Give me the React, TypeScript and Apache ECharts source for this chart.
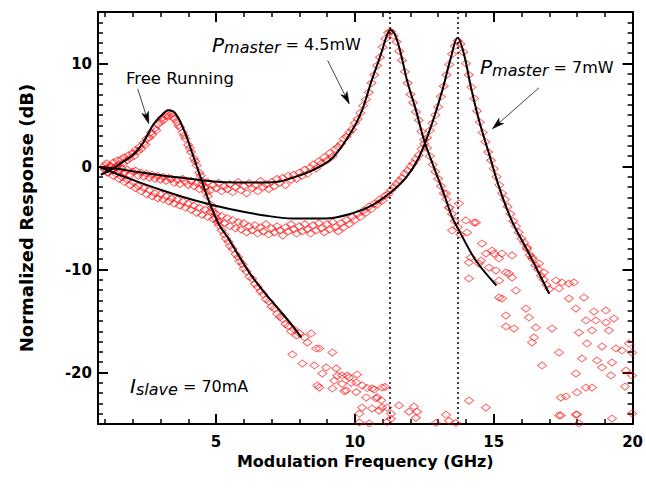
import React, { useEffect, useRef } from 'react';
import * as echarts from 'echarts';

const FAMILY = "'DejaVu Sans', sans-serif";

// Tick labels
const xMajorTicks = [5, 10, 15, 20];
const yMajorTicks = [-20, -10, 0, 10];

// Resonance markers (GHz)
const resonanceLines = [11.25, 13.7];

// Measured data, [GHz, dB]
const freeRunningMeasured = [
  [1.0, -0.3], [1.05, 0.3], [1.1, -0.6], [1.2, 0.1], [1.25, -0.3], [1.3, 0.4], [1.4, 0.0], [1.45, 0.6], [1.5, 0.2], [1.6, 0.7],
  [1.65, 0.3], [1.7, 0.9], [1.8, 0.6], [1.85, 1.1], [1.9, 0.8], [2.0, 1.3], [2.05, 1.0], [2.1, 1.6], [2.2, 1.5], [2.25, 1.9],
  [2.3, 1.7], [2.4, 2.3], [2.45, 2.1], [2.5, 2.7], [2.6, 2.8], [2.65, 3.3], [2.7, 3.1], [2.8, 3.7], [2.85, 3.5], [2.9, 4.1],
  [3.0, 4.3], [3.05, 4.7], [3.1, 4.5], [3.2, 4.9], [3.25, 5.2], [3.3, 4.9], [3.4, 5.1], [3.45, 4.8], [3.5, 4.6], [3.6, 4.3],
  [3.65, 4.0], [3.7, 3.8], [3.8, 3.3], [3.85, 3.0], [3.9, 2.7], [4.0, 2.1], [4.05, 1.8], [4.1, 1.4], [4.2, 0.8], [4.25, 0.5],
  [4.3, 0.1], [4.4, -0.6], [4.45, -0.9], [4.5, -1.4], [4.6, -2.1], [4.65, -2.5], [4.7, -2.9], [4.8, -3.7], [4.85, -4.0], [4.9, -4.4],
  [5.0, -5.0], [5.05, -5.4], [5.1, -5.7], [5.2, -6.2], [5.3, -6.6], [5.35, -7.0], [5.45, -7.3], [5.5, -7.7], [5.6, -8.0], [5.7, -8.5],
  [5.8, -8.8], [5.85, -9.2], [5.95, -9.5], [6.0, -9.9], [6.1, -10.2], [6.2, -10.7], [6.3, -10.9], [6.4, -11.4], [6.5, -11.7], [6.6, -12.1],
  [6.7, -12.4], [6.8, -12.9], [6.9, -13.1], [7.0, -13.6], [7.1, -13.8], [7.2, -14.3], [7.3, -14.6], [7.4, -14.8], [7.5, -15.3], [7.6, -15.5],
  [7.7, -16.0], [7.8, -15.8], [7.9, -16.4], [8.0, -16.2], [8.2, -16.6],
  [7.75, -18.25], [8.29, -17.09], [8.43, -16.21], [8.61, -17.67], [8.72, -17.67], [9.19, -18.06], [8.11, -19.13], [8.54, -19.32], [8.97, -19.51],
  [8.83, -20.1], [9.54, -20.29], [9.8, -20.49], [10.05, -20.97], [10.26, -21.26], [8.65, -21.26], [8.72, -21.46], [9.19, -21.55], [9.69, -21.75],
  [10.62, -21.55], [10.98, -21.46], [10.41, -22.43], [10.77, -22.52], [10.98, -23.4], [10.26, -23.4], [10.62, -23.5], [10.16, -24.85], [10.52, -24.95],
  [9.33, -19.6], [9.37, -20.3], [9.72, -20.3], [10.08, -20.2], [9.26, -20.8], [9.54, -21.1], [9.87, -21.0], [10.44, -21.5], [10.7, -21.65],
  [11.09, -21.4], [9.62, -21.8], [10.05, -21.9], [10.8, -22.4], [10.95, -22.7], [11.16, -23.4], [10.87, -23.7], [10.16, -24.0], [11.3, -24.0],
  [11.59, -23.2], [11.95, -23.8], [12.13, -23.3], [12.24, -23.8], [12.2, -24.4], [11.3, -24.5], [11.16, -24.8], [12.92, -24.9], [13.28, -24.1],
  [13.39, -24.7], [13.64, -24.9], [14.11, -22.72], [14.72, -23.4],
];

const master45Measured = [
  [1.0, 0.1], [1.1, -0.2], [1.2, 0.0], [1.3, -0.4], [1.4, -0.1], [1.5, -0.5], [1.6, -0.2], [1.7, -0.6], [1.8, -0.3], [1.9, -0.8],
  [2.0, -0.5], [2.1, -0.4], [2.2, -0.9], [2.3, -0.6], [2.4, -1.0], [2.5, -0.7], [2.6, -1.1], [2.7, -0.8], [2.8, -1.2], [2.9, -0.9],
  [3.0, -1.3], [3.1, -1.0], [3.2, -1.4], [3.3, -1.1], [3.4, -1.2], [3.5, -1.6], [3.6, -1.3], [3.7, -1.7], [3.8, -1.2], [3.9, -1.5],
  [4.0, -1.8], [4.1, -1.4], [4.2, -1.9], [4.3, -1.6], [4.4, -2.2], [4.5, -1.7], [4.6, -2.0], [4.7, -1.5], [4.8, -2.3], [4.9, -1.8],
  [5.0, -2.1], [5.1, -1.6], [5.2, -2.4], [5.3, -1.9], [5.4, -2.2], [5.5, -1.7], [5.6, -2.5], [5.7, -2.0], [5.8, -1.5], [5.9, -2.3],
  [6.0, -1.9], [6.1, -2.6], [6.2, -1.6], [6.3, -2.1], [6.4, -1.8], [6.5, -2.4], [6.6, -1.4], [6.7, -2.0], [6.8, -1.7], [6.9, -2.2],
  [7.0, -1.5], [7.1, -1.9], [7.2, -1.2], [7.3, -1.6], [7.4, -1.1], [7.5, -1.8], [7.6, -0.9], [7.7, -1.3], [7.8, -0.8], [7.9, -1.2],
  [8.0, -0.6], [8.1, -0.9], [8.2, -0.3], [8.3, -0.7], [8.4, -0.1], [8.5, 0.2], [8.6, -0.2], [8.7, 0.5], [8.8, 0.3], [8.9, 0.9],
  [9.0, 0.6], [9.1, 1.3], [9.2, 1.0], [9.3, 1.7], [9.4, 1.9], [9.5, 2.2], [9.6, 2.7], [9.7, 2.9], [9.8, 3.3], [9.9, 3.6],
  [10.0, 4.2], [10.1, 4.6], [10.2, 5.2], [10.3, 5.9], [10.4, 6.5], [10.5, 7.2], [10.6, 8.1], [10.7, 8.9], [10.8, 9.8], [10.9, 10.6],
  [11.0, 11.6], [11.1, 12.4], [11.2, 13.0], [11.3, 13.1], [11.4, 12.7], [11.5, 12.1], [11.6, 11.2], [11.7, 10.3], [11.8, 9.2], [11.9, 8.1],
  [12.0, 7.0], [12.1, 6.2], [12.2, 5.3], [12.3, 4.5], [12.4, 3.4], [12.5, 2.6], [12.6, 1.8], [12.7, 1.0], [12.8, 0.2], [12.9, -0.5],
  [13.0, -1.2], [13.1, -1.9], [13.2, -2.6], [13.3, -3.2], [13.4, -4.0], [13.5, -4.6], [13.6, -5.3], [13.7, -5.9], [13.8, -6.6],
  [13.29, -2.62], [13.39, -3.98], [13.75, -3.59], [14.0, -5.24], [14.36, -5.44], [14.29, -5.44], [13.5, -6.21], [14.04, -6.41], [14.58, -7.48],
  [14.18, -8.83], [14.54, -9.13], [14.72, -8.45], [15.01, -8.45], [14.94, -8.16], [15.3, -8.45], [15.66, -8.64], [15.19, -8.93], [14.11, -9.32],
  [14.47, -9.42], [14.83, -9.81], [15.08, -10.1], [15.44, -10.29], [15.66, -10.78], [14.11, -10.87], [15.19, -11.07], [15.8, -12.04], [15.55, -10.39],
  [15.19, -12.72], [15.3, -12.82], [16.16, -13.79], [15.44, -14.47], [16.27, -14.66], [15.44, -15.53], [15.73, -15.73], [16.52, -15.63],
  [16.45, -16.6], [16.38, -17.09], [16.74, -19.32], [17.42, -22.43], [18.0, -24.08], [17.42, -24.17], [19.26, -24.47],
];

const master7Measured = [
  [1.0, -0.2], [1.1, -0.6], [1.2, -0.4], [1.3, -0.9], [1.4, -0.7], [1.5, -1.2], [1.6, -1.0], [1.7, -1.5], [1.8, -1.3], [1.9, -1.8],
  [2.0, -1.5], [2.1, -2.1], [2.2, -1.9], [2.3, -2.4], [2.4, -2.1], [2.5, -2.7], [2.6, -2.3], [2.7, -2.9], [2.8, -2.6], [2.9, -3.1],
  [3.0, -2.7], [3.1, -3.2], [3.2, -2.9], [3.3, -3.4], [3.4, -3.1], [3.5, -3.6], [3.6, -3.2], [3.7, -3.8], [3.8, -3.4], [3.9, -4.0],
  [4.0, -3.6], [4.1, -4.2], [4.2, -3.8], [4.3, -4.5], [4.4, -4.0], [4.5, -4.7], [4.6, -4.2], [4.7, -4.9], [4.8, -4.4], [4.9, -5.1],
  [5.0, -4.6], [5.1, -5.3], [5.2, -4.8], [5.3, -5.5], [5.4, -5.0], [5.5, -5.8], [5.6, -5.2], [5.7, -6.0], [5.8, -5.4], [5.9, -6.1],
  [6.0, -5.5], [6.1, -6.4], [6.2, -5.8], [6.3, -6.2], [6.4, -5.7], [6.5, -6.5], [6.6, -5.9], [6.7, -6.3], [6.8, -5.6], [6.9, -6.6],
  [7.0, -6.0], [7.1, -6.4], [7.2, -5.8], [7.3, -6.2], [7.4, -6.7], [7.5, -5.9], [7.6, -6.3], [7.7, -5.6], [7.8, -6.1], [7.9, -6.5],
  [8.0, -5.8], [8.1, -6.3], [8.2, -5.6], [8.3, -6.1], [8.4, -6.5], [8.5, -5.7], [8.6, -6.2], [8.7, -5.5], [8.8, -6.0], [8.9, -6.4],
  [9.0, -5.6], [9.1, -6.1], [9.2, -5.4], [9.3, -5.9], [9.4, -6.3], [9.5, -5.5], [9.6, -5.9], [9.7, -5.2], [9.8, -5.6], [9.9, -4.9],
  [10.0, -5.2], [10.1, -4.6], [10.2, -4.9], [10.3, -4.3], [10.4, -4.5], [10.5, -3.9], [10.6, -4.1], [10.7, -3.6], [10.8, -3.7], [10.9, -3.2],
  [11.0, -3.3], [11.1, -2.8], [11.2, -2.7], [11.3, -2.3], [11.4, -2.0], [11.5, -1.7], [11.6, -1.4], [11.7, -1.1], [11.8, -0.7], [11.9, -0.4],
  [12.0, 0.0], [12.1, 0.3], [12.2, 0.7], [12.3, 1.1], [12.4, 1.7], [12.5, 2.2], [12.6, 2.8], [12.7, 3.5], [12.8, 4.2], [12.9, 5.0],
  [13.0, 5.8], [13.1, 6.8], [13.2, 7.8], [13.3, 8.9], [13.4, 9.9], [13.5, 10.9], [13.6, 11.7], [13.7, 12.2], [13.8, 11.9], [13.9, 11.1],
  [14.0, 10.0], [14.1, 8.9], [14.2, 7.7], [14.3, 6.6], [14.4, 5.4], [14.5, 4.3], [14.6, 3.3], [14.7, 2.4], [14.8, 1.4], [14.9, 0.6],
  [15.0, -0.2], [15.1, -1.0], [15.2, -1.8], [15.3, -2.6], [15.4, -3.2], [15.5, -3.9], [15.6, -4.6], [15.7, -5.3], [15.8, -5.8], [15.9, -6.4],
  [16.0, -7.0], [16.1, -7.4], [16.2, -8.0], [16.3, -8.6], [16.4, -9.0], [16.5, -9.6], [16.6, -10.0], [16.7, -10.6], [16.8, -11.0], [16.9, -11.5],
  [17.0, -11.9],
  [16.2, -7.86], [16.38, -8.83], [16.63, -9.42], [16.81, -10.29], [17.24, -11.07], [17.46, -11.26], [17.71, -11.36], [17.89, -11.26],
  [17.35, -11.84], [17.71, -12.82], [18.25, -12.72], [17.96, -13.79], [18.61, -14.08], [19.04, -13.98], [18.32, -14.95], [18.68, -14.95],
  [19.04, -15.15], [19.33, -14.76], [18.07, -16.12], [18.54, -15.92], [19.15, -15.92], [18.36, -17.18], [18.9, -17.48], [19.4, -17.67],
  [19.62, -17.86], [19.87, -17.18], [19.98, -18.06], [18.18, -18.64], [18.72, -18.83], [19.26, -19.03], [18.9, -19.51], [19.22, -20.29],
  [19.76, -19.81], [19.98, -20.29], [18.32, -21.46], [18.54, -21.46], [18.0, -21.94], [17.6, -22.33], [19.73, -21.36], [19.98, -23.98],
  [17.35, -24.17], [17.96, -24.08], [18.07, -24.95], [17.96, -20.1], [17.35, -18.06], [17.1, -15.73],
];

// Fitted curves, [GHz, dB]
const freeRunningFit = [
  [0.85, -0.8], [1.2, -0.35], [1.6, 0.35], [2.0, 1.1], [2.35, 2.2], [2.75, 4.1], [3.05, 5.0], [3.3, 5.45], [3.55, 5.1],
  [3.85, 3.5], [4.15, 1.25], [4.45, -1.1], [4.75, -3.4], [5.1, -5.6], [5.45, -7.0], [5.85, -8.8], [6.25, -10.5], [6.7, -12.1],
  [7.05, -13.2], [7.4, -14.3], [7.75, -15.45], [8.07, -16.6],
];
const master45Fit = [
  [0.85, -0.1], [1.4, -0.2], [2.1, -0.5], [3.05, -0.87], [4.0, -1.17], [4.9, -1.45], [5.7, -1.55], [6.6, -1.55], [7.3, -1.45],
  [7.75, -1.1], [8.45, -0.4], [9.2, 0.85], [9.9, 3.5], [10.25, 5.4], [10.6, 8.3], [10.95, 11.0], [11.15, 12.7], [11.28, 13.25],
  [11.45, 12.75], [11.65, 11.0], [11.88, 8.35], [12.2, 5.45], [12.5, 2.5], [12.85, -0.1], [13.2, -2.6], [13.5, -4.9], [13.75, -6.2],
  [14.35, -9.1], [15.1, -11.55],
];
const master7Fit = [
  [0.85, -0.1], [1.85, -1.15], [3.05, -2.3], [4.25, -3.3], [5.45, -4.1], [6.75, -4.75], [7.75, -5.05], [8.95, -5.05], [9.9, -4.55],
  [10.6, -3.8], [11.25, -2.6], [11.85, -1.05], [12.3, 0.85], [12.75, 3.95], [13.15, 7.4], [13.45, 10.5], [13.7, 12.5], [13.92, 11.0],
  [14.18, 7.7], [14.47, 4.5], [14.83, 1.25], [15.2, -2.05], [15.65, -5.25], [16.27, -8.45], [17.0, -12.35],
];

// Annotation arrows: [tailGHz, tailDb, headGHz, headDb]
const annotationArrows = [
  [2.18, 7.54, 2.58, 4.15],
  [9.02, 10.29, 9.8, 6.08],
  [16.63, 7.64, 14.95, 3.66],
];

const X_MIN = 0.75;
const X_MAX = 20;
const Y_MIN = -25;
const Y_MAX = 15;

function xAxisCfg(position: string, labels: boolean) {
  return {
    type: 'value', position, min: X_MIN, max: X_MAX, splitNumber: 4,
    axisLine: { show: true, onZero: false, lineStyle: { color: '#000', width: 2 } },
    axisTick: { show: true, inside: true, length: 10, lineStyle: { color: '#000', width: 2 } },
    minorTick: { show: true, splitNumber: 5, length: 5, lineStyle: { color: '#000', width: 1.5 } },
    axisLabel: labels
      ? { show: true, customValues: xMajorTicks, margin: 10, color: '#000', fontFamily: FAMILY, fontWeight: 'bold', fontSize: 15, showMaxLabel: true }
      : { show: false },
    splitLine: { show: false },
    minorSplitLine: { show: false },
    ...(labels ? {
      name: 'Modulation Frequency (GHz)', nameLocation: 'middle', nameGap: 28,
      nameTextStyle: { color: '#000', fontFamily: FAMILY, fontWeight: 'bold', fontSize: 16 },
    } : {}),
  };
}

function yAxisCfg(position: string, labels: boolean) {
  return {
    type: 'value', position, min: Y_MIN, max: Y_MAX, splitNumber: 4,
    axisLine: { show: true, onZero: false, lineStyle: { color: '#000', width: 2 } },
    axisTick: { show: true, inside: true, length: 10, lineStyle: { color: '#000', width: 2 } },
    minorTick: { show: true, splitNumber: 10, length: 5, lineStyle: { color: '#000', width: 1.5 } },
    axisLabel: labels
      ? { show: true, customValues: yMajorTicks, margin: 6, color: '#000', fontFamily: FAMILY, fontWeight: 'bold', fontSize: 15 }
      : { show: false },
    splitLine: { show: false },
    minorSplitLine: { show: false },
    ...(labels ? {
      name: 'Normalized Response (dB)', nameLocation: 'middle', nameGap: 63,
      nameTextStyle: { color: '#000', fontFamily: FAMILY, fontWeight: 'bold', fontSize: 18 },
    } : {}),
  };
}

const arrowSeries = {
  type: 'custom', xAxisIndex: 0, yAxisIndex: 0, silent: true, clip: false, z: 6,
  data: annotationArrows,
  encode: { x: [0, 2], y: [1, 3] },
  renderItem: (params: any, api: any) => {
    const p1 = api.coord([api.value(0), api.value(1)]);
    const p2 = api.coord([api.value(2), api.value(3)]);
    const dx = p2[0] - p1[0];
    const dy = p2[1] - p1[1];
    const d = Math.sqrt(dx * dx + dy * dy);
    const ux = dx / d;
    const uy = dy / d;
    const nx = -uy;
    const ny = ux;
    const L = 12;
    const W = 3.5;
    const bx = p2[0] - ux * L;
    const by = p2[1] - uy * L;
    const notchX = p2[0] - ux * L * 0.75;
    const notchY = p2[1] - uy * L * 0.75;
    return {
      type: 'group', children: [
        { type: 'line', shape: { x1: p1[0], y1: p1[1], x2: notchX, y2: notchY }, style: { stroke: '#444', lineWidth: 1 } },
        {
          type: 'polygon',
          shape: { points: [[p2[0], p2[1]], [bx + nx * W, by + ny * W], [notchX, notchY], [bx - nx * W, by - ny * W]] },
          style: { fill: '#000', stroke: '#000', lineWidth: 0.5 },
        },
      ],
    };
  },
};

const scatterStyle = {
  type: 'scatter', xAxisIndex: 0, yAxisIndex: 0, symbol: 'diamond', symbolSize: [9, 7],
  itemStyle: { color: 'rgba(255,255,255,0)', borderColor: 'rgba(255,0,0,0.8)', borderWidth: 1 },
  silent: true,
};

const fitStyle = {
  type: 'line', xAxisIndex: 0, yAxisIndex: 0, showSymbol: false, smooth: 0.35,
  lineStyle: { color: '#000', width: 2 }, silent: true,
};

const rich = {
  B: { font: `italic 20px ${FAMILY}`, fontFamily: FAMILY, fontStyle: 'italic', fontSize: 20, fill: '#000' },
  s: { font: `italic 16px ${FAMILY}`, fontFamily: FAMILY, fontStyle: 'italic', fontSize: 16, fill: '#000', padding: [6, 0, 0, 0] },
  n: { font: `16px ${FAMILY}`, fontFamily: FAMILY, fontSize: 16, fill: '#000' },
};

function label(x: number, y: number, text: string) {
  return {
    type: 'text', x, y, z: 10,
    style: { text, rich, font: `16px ${FAMILY}`, fontFamily: FAMILY, fontSize: 16, fill: '#000', align: 'left', verticalAlign: 'middle' },
  };
}

const textGraphics = [
  { type: 'text', x: 126, y: 78, z: 10, style: { text: 'Free Running', font: `16.5px ${FAMILY}`, fontFamily: FAMILY, fontSize: 16.5, fill: '#000', align: 'left', verticalAlign: 'middle' } },
  label(212, 44.5, '{B|P}{s|master}{n| = 4.5mW}'),
  label(480, 67, '{B|P}{s|master}{n| = 7mW}'),
  label(130, 386, '{B|I}{s|slave}{n| = 70mA}'),
];

export default function App() {
  const ref = useRef<HTMLDivElement>(null);
  useEffect(() => {
    const chart = echarts.init(ref.current!, null, { renderer: 'svg' });
    const option: any = {
      animation: false,
      backgroundColor: '#fff',
      grid: { left: 98, right: 11, top: 12, bottom: 72 },
      xAxis: [xAxisCfg('bottom', true), xAxisCfg('top', false)],
      yAxis: [yAxisCfg('left', true), yAxisCfg('right', false)],
      series: [
        { ...scatterStyle, name: 'Free Running data', data: freeRunningMeasured },
        { ...scatterStyle, name: 'Pmaster 4.5mW data', data: master45Measured },
        { ...scatterStyle, name: 'Pmaster 7mW data', data: master7Measured },
        {
          ...fitStyle, name: 'Free Running fit', data: freeRunningFit,
          markLine: {
            silent: true, symbol: ['none', 'none'], label: { show: false },
            lineStyle: { color: '#000', width: 1.5, type: [2, 3] },
            data: resonanceLines.map((v) => ({ xAxis: v })),
          },
        },
        { ...fitStyle, name: 'Pmaster 4.5mW fit', data: master45Fit },
        { ...fitStyle, name: 'Pmaster 7mW fit', data: master7Fit },
        arrowSeries,
      ],
      graphic: textGraphics,
    };
    chart.setOption(option);
    return () => chart.dispose();
  }, []);
  return <div ref={ref} style={{ position: 'fixed', left: 0, top: 0, width: 646, height: 496, background: '#fff' }} />;
}
